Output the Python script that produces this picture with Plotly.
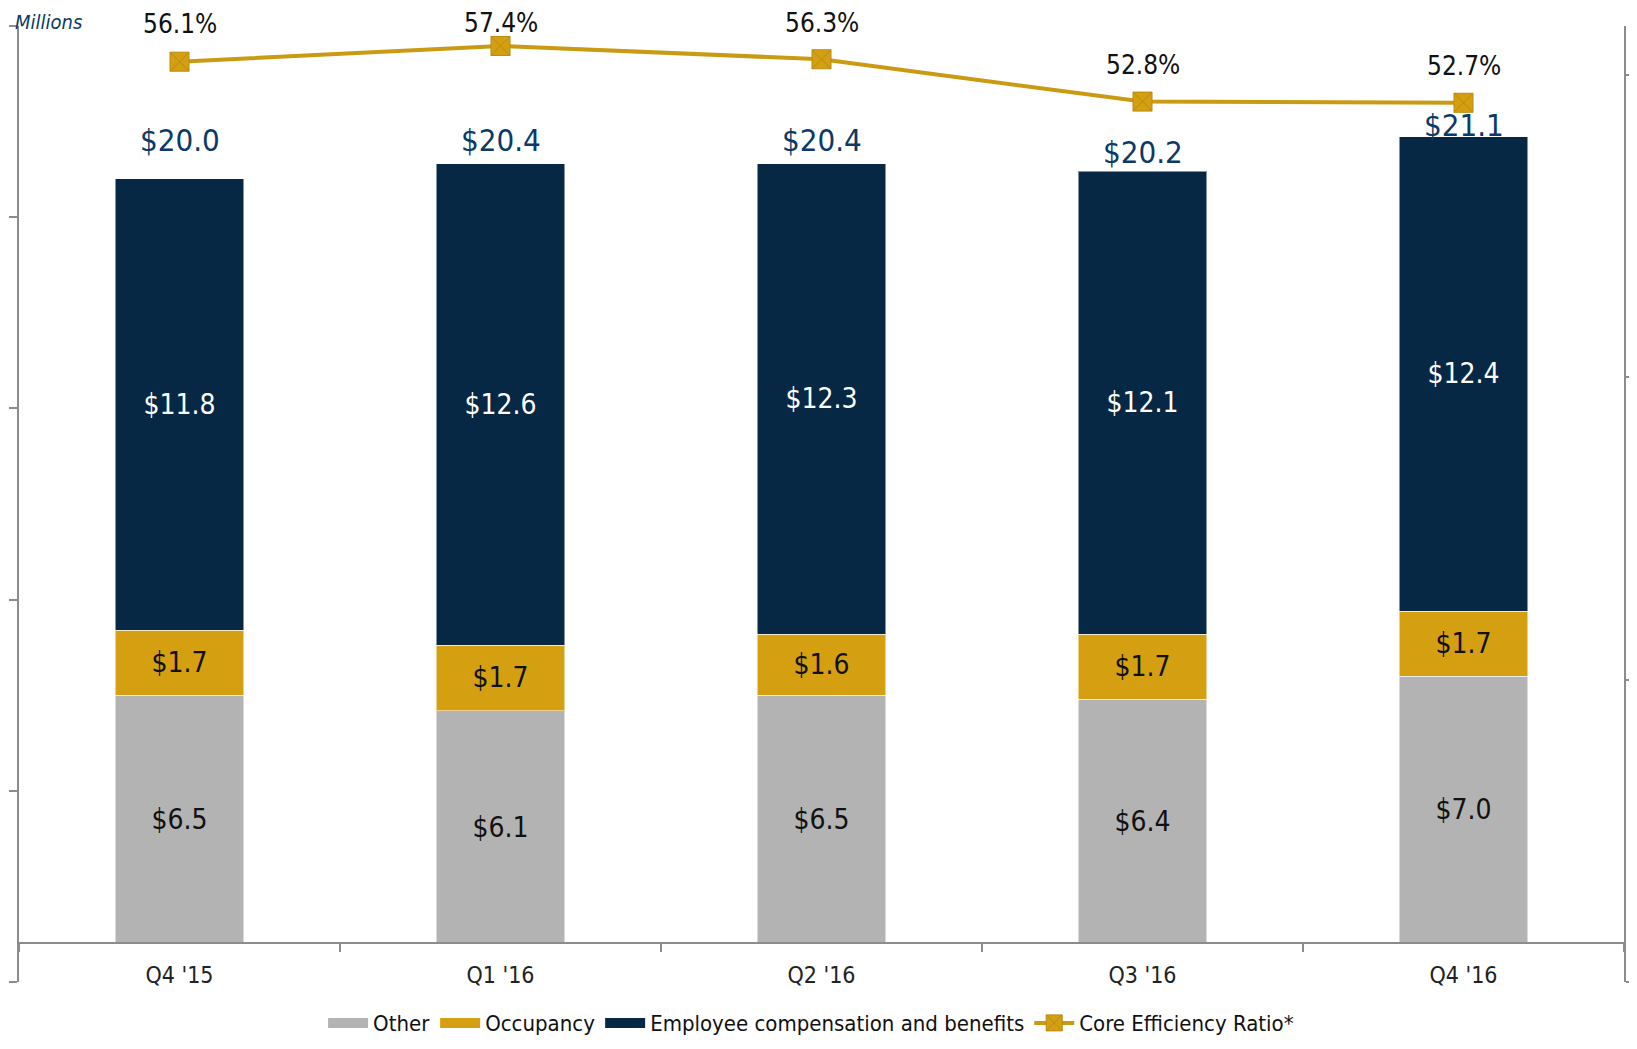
import plotly.graph_objects as go

categories = ["Q4 '15", "Q1 '16", "Q2 '16", "Q3 '16", "Q4 '16"]
other = [6.5, 6.1, 6.5, 6.4, 7.0]
occupancy = [1.7, 1.7, 1.6, 1.7, 1.7]
employee = [11.8, 12.6, 12.3, 12.1, 12.4]
totals = [20.0, 20.4, 20.4, 20.2, 21.1]
efficiency = [56.1, 57.4, 56.3, 52.8, 52.7]

# label lifts (pixels) - styling only
total_lift = [39, 24, 24, 19, 12]
pct_lift = [38, 23, 36, 37, 37]

FONT = "Liberation Sans Narrow, Arial Narrow, DejaVu Sans Condensed, sans-serif"
GRAY_AX = "#8c8c8c"
NAVY = "#062844"
GOLD = "#D4A012"
GREY = "#B3B3B3"
EDGE = "rgba(255,255,255,0.5)"

fig = go.Figure()
series = [("Other", other, GREY, "#111111"),
          ("Occupancy", occupancy, GOLD, "#111111"),
          ("Employee compensation and benefits", employee, NAVY, "#ffffff")]
for name, vals, col, tcol in series:
    fig.add_trace(go.Bar(x=categories, y=vals, name=name, showlegend=False,
                         marker=dict(color=col, line=dict(color=EDGE, width=1)),
                         text=[f"${v:.1f}" for v in vals], textposition="inside", insidetextanchor="middle",
                         textfont=dict(family=FONT, size=28, color=tcol)))
# legend proxies with wide swatches
for name, vals, col, tcol in series:
    fig.add_trace(go.Scatter(x=[None], y=[None], name=name, mode="lines",
                             line=dict(color=col, width=15)))
fig.add_trace(go.Scatter(x=categories, y=efficiency, name="Core Efficiency Ratio*", yaxis="y2",
                         mode="lines+markers", line=dict(color="#C99A12", width=4),
                         marker=dict(symbol="square-x", size=19, color=GOLD, line=dict(color="#B88A10", width=1))))

annotations = []
for c, t, s in zip(categories, totals, total_lift):
    annotations.append(dict(x=c, y=t, xref="x", yref="y", text=f"${t:.1f}", showarrow=False,
                            yanchor="middle", yshift=s, font=dict(family=FONT, size=31, color="#0B3A66")))
for c, e, s in zip(categories, efficiency, pct_lift):
    annotations.append(dict(x=c, y=e, xref="x", yref="y2", text=f"{e:.1f}%", showarrow=False,
                            yanchor="middle", yshift=s, font=dict(family=FONT, size=26, color="#111111")))
annotations.append(dict(x=0.0405, y=1.0188, xref="paper", yref="paper", text="<i>Millions</i>", showarrow=False,
                        xanchor="right", yanchor="top", font=dict(family=FONT, size=20, color="#0B3A66")))

fig.update_layout(
    width=1621, height=1033,
    margin=dict(l=11, r=5, t=18, b=59, autoexpand=False),
    paper_bgcolor="white", plot_bgcolor="white",
    barmode="stack", bargap=0.6,
    font=dict(family=FONT, size=24, color="#222222"),
    showlegend=True,
    legend=dict(orientation="h", traceorder="normal", x=0.4935, xanchor="center", y=-0.021, yanchor="top",
                font=dict(family=FONT, size=22, color="#111111"), itemwidth=40, bgcolor="rgba(0,0,0,0)"),
    annotations=annotations,
    xaxis=dict(type="category", anchor="free", position=0.0408, showline=True, linecolor=GRAY_AX, linewidth=1.5,
               ticks="outside", tickson="boundaries", ticklen=8, tickcolor=GRAY_AX, tickwidth=1.5,
               ticklabelstandoff=12,
               showgrid=False, tickfont=dict(family=FONT, size=23, color="#222222")),
    yaxis=dict(range=[-1, 24], showline=True, linecolor=GRAY_AX, linewidth=1.5, ticks="outside", ticklen=8,
               tickcolor=GRAY_AX, tickwidth=1.5, tick0=-1, dtick=5, showticklabels=False, showgrid=False, zeroline=False),
    yaxis2=dict(range=[-20, 59.05], overlaying="y", side="right", showline=True, linecolor=GRAY_AX, linewidth=1.5,
                ticks="outside", ticklen=5, tickcolor=GRAY_AX, tickwidth=1.5, tick0=-20, dtick=25,
                showticklabels=False, showgrid=False, zeroline=False),
)
fig.write_html("out.html")
